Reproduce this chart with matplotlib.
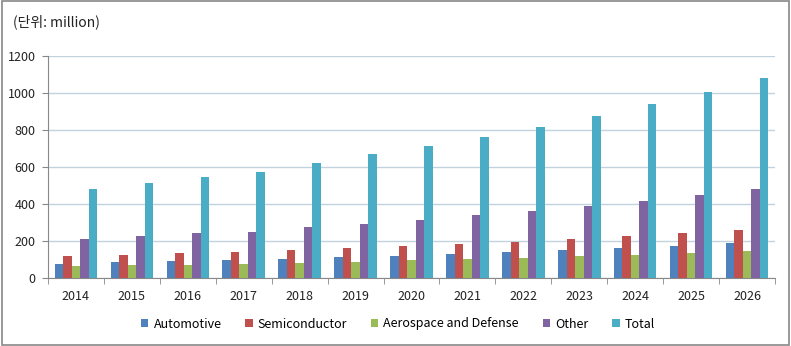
import numpy as np
import matplotlib.pyplot as plt
from matplotlib.patches import Rectangle

plt.rcParams['font.family'] = ['Noto Sans CJK KR', 'DejaVu Sans']

years = ['2014', '2015', '2016', '2017', '2018', '2019', '2020',
         '2021', '2022', '2023', '2024', '2025', '2026']

automotive = [76, 86, 92, 97, 103, 114, 119, 130, 141, 151, 162, 173, 189]
semiconductor = [119, 124, 135, 141, 151, 162, 173, 184, 195, 211, 227, 243, 259]
aerospace = [65, 70, 72, 76, 81, 86, 97, 103, 108, 119, 124, 135, 146]
other = [211, 227, 243, 249, 276, 292, 314, 341, 362, 389, 416, 449, 481]
total = [481, 514, 546, 573, 622, 668, 714, 763, 816, 876, 940, 1005, 1081]

series = [
    ('Automotive', automotive, '#4F81BD'),
    ('Semiconductor', semiconductor, '#C0504D'),
    ('Aerospace and Defense', aerospace, '#9BBB59'),
    ('Other', other, '#8064A2'),
    ('Total', total, '#4BACC6'),
]

fig = plt.figure(figsize=(7.91, 3.46), dpi=100)
ax = fig.add_axes([48 / 791, 1 - 278 / 346, (775 - 48) / 791, (278 - 56) / 346])

x = np.arange(len(years))
w = 0.152
for i, (name, vals, col) in enumerate(series):
    ax.bar(x + (i - 2) * w, vals, width=w, color=col, label=name, zorder=3)

ax.set_xlim(-0.5, len(years) - 0.5)
ax.set_ylim(0, 1200)
ax.set_yticks(range(0, 1201, 200))
ax.set_xticks(x)
ax.set_xticklabels(years)
ax.set_xticks(np.arange(-0.5, len(years), 1), minor=True)
ax.tick_params(axis='x', which='major', length=0, pad=9, labelsize=9, colors='#222222')
ax.tick_params(axis='x', which='minor', length=4, color='#888888', direction='out')
ax.tick_params(axis='y', length=4, color='#888888', labelsize=9, colors='#222222', pad=5)

ax.grid(axis='y', color='#C3D3DE', linewidth=1, zorder=0)
for s in ['top', 'right']:
    ax.spines[s].set_visible(False)
ax.spines['left'].set_color('#888888')
ax.spines['bottom'].set_color('#888888')

fig.legend(loc='center', bbox_to_anchor=(398 / 791, 1 - 324 / 346), ncol=5, frameon=False,
           fontsize=9, handlelength=0.6, handleheight=0.6, handletextpad=0.4,
           columnspacing=1.9)

fig.text(13 / 791, 1 - 22 / 346, '(단위: million)', fontsize=10, va='center', ha='left',
         color='#222222')

fig.patches.append(Rectangle((0.002, 0.003), 0.995, 0.993, transform=fig.transFigure,
                             fill=False, edgecolor='#888888', linewidth=1.2))

fig.savefig('out.png', dpi=100)
